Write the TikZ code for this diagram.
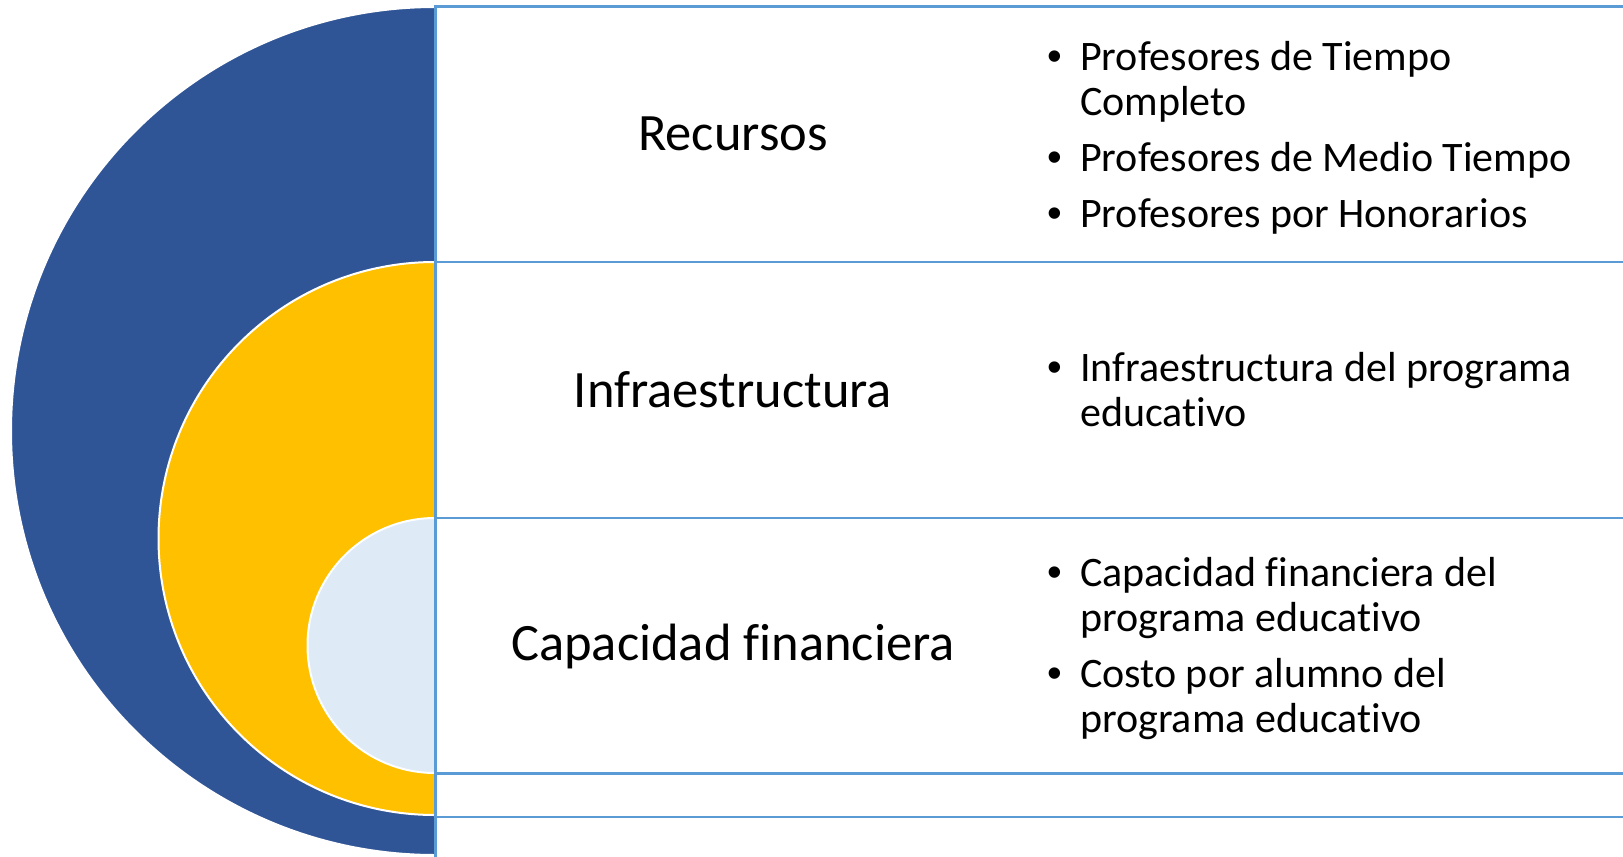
\documentclass[tikz,border=0pt]{standalone}
\usepackage{fontspec}
\setmainfont{Carlito}[Ligatures={NoCommon}]
\newfontfamily\bulletfont{Liberation Sans}
\definecolor{cdark}{HTML}{2F5597}
\definecolor{cyel}{HTML}{FFC000}
\definecolor{clight}{HTML}{DEEBF7}
\definecolor{cline}{HTML}{5B9BD5}
\newcommand{\bul}{\makebox[33pt][l]{\bulletfont •}}
\tikzset{
  disk/.style={draw=white, line width=2pt},
  rowline/.style={draw=cline, line width=2.6pt},
  rowlabel/.style={font=\fontsize{52.5}{60}\selectfont, inner sep=0pt, text=black},
  bullist/.style={anchor=west, inner sep=0pt, font=\fontsize{42}{45}\selectfont, text=black}
}
\begin{document}
\begin{tikzpicture}[x=1pt,y=-1pt]
\useasboundingbox[fill=white] (0,0) rectangle (1623,857);
\begin{scope}
  \clip (0,0) rectangle (435,857);
  \fill[cdark, disk] (435,431) circle[radius=424];
  \fill[cyel, disk] (435,538.5) circle[radius=276.5];
  \fill[clight, disk] (435,645.5) circle[radius=127.5];
\end{scope}
% row lines
\coordinate (vt) at (435.5,5);
\coordinate (vb) at (435.5,857);
\draw[rowline] (vt) -- (vb);
\foreach \yy/\nm in {6.3/a,262/b,518/c,773.5/d,817/e}{
  \coordinate (L\nm) at (434,\yy);
  \coordinate (R\nm) at (1623,\yy);
  \draw[rowline] (L\nm) -- (R\nm);
}
% labels
\node[rowlabel] (l1) at (733,134) {Recursos};
\node[rowlabel] (l2) at (733,390) {Infraestructura};
\node[rowlabel] (l3) at (733,646) {Capacidad financiera};
% bullets
\node[bullist] (b1) at (1047,140) {\begin{tabular}{@{}l@{}l@{}}
\bul & Profesores de Tiempo\\
 & Completo\\[11pt]
\bul & Profesores de Medio Tiempo\\[11pt]
\bul & Profesores por Honorarios
\end{tabular}};
\node[bullist] (b2) at (1047,395) {\begin{tabular}{@{}l@{}l@{}}
\bul & Infraestructura del programa\\
 & educativo
\end{tabular}};
\node[bullist] (b3) at (1047,650.5) {\begin{tabular}{@{}l@{}l@{}}
\bul & Capacidad financiera del\\
 & programa educativo\\[11pt]
\bul & Costo por alumno del\\
 & programa educativo
\end{tabular}};
\end{tikzpicture}
\end{document}
